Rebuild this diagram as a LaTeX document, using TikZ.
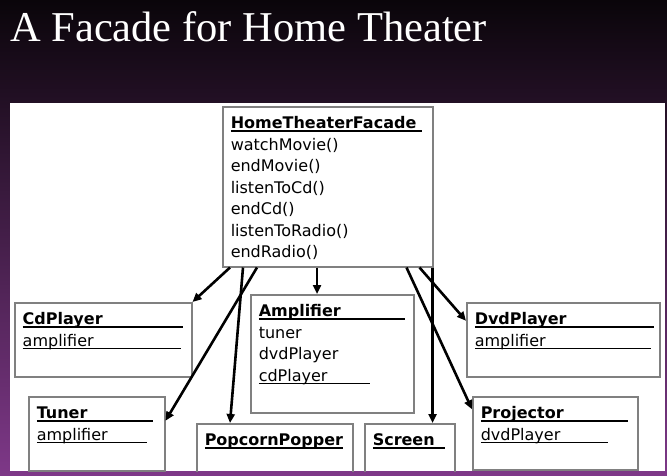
\documentclass[tikz,border=0pt]{standalone}
\usepackage{fontspec}
\setmainfont{Liberation Serif}
\newfontfamily\umlfont{DejaVu Sans}
\usepackage{tikz}
\usetikzlibrary{arrows.meta}
\usetikzlibrary{calc}
\definecolor{bgtop}{RGB}{10,5,10}
\definecolor{bgbot}{RGB}{126,56,136}
\definecolor{boxgray}{RGB}{128,128,128}
\tikzstyle{classbox}=[draw=boxgray,line width=1.5pt,anchor=north west,inner xsep=8pt,inner ysep=7pt,font=\umlfont\fontsize{16}{21.5}\selectfont]
\tikzstyle{uses}=[line width=2.6pt,-{Triangle[length=9pt,width=8pt]}]
\newcommand{\cstrut}{\rule[-6.5pt]{0pt}{21.5pt}}
\newcommand{\ulined}[2]{\makebox[0pt][l]{\rule[-3pt]{#1}{1.4pt}}#2}
\newcommand{\classbody}[3]{\parbox[t][#1][t]{#2}{#3}}

\begin{document}
\begin{tikzpicture}[x=1pt,y=-1pt]
\useasboundingbox (0,0) rectangle (667,475);
\shade[top color=bgtop,bottom color=bgbot] (0,0) rectangle (667,475);
\node[white,anchor=base west,inner sep=0pt,font=\fontsize{42.5}{50}\selectfont] (title) at (10,41) {A Facade for Home Theater};
\fill[white] (10,103) rectangle (665,471);
\begin{scope}
\clip (10,103) rectangle (665,471);
\node[classbox] (facade) at (222,106) {\classbody{146pt}{194pt}{%
  \cstrut\ulined{191pt}{\textbf{HomeTheaterFacade}}\\
  \cstrut watchMovie()\\
  \cstrut endMovie()\\
  \cstrut listenToCd()\\
  \cstrut endCd()\\
  \cstrut listenToRadio()\\
  \cstrut endRadio()}};
\node[classbox] (cd) at (14,302) {\classbody{60pt}{161pt}{%
  \cstrut\ulined{160pt}{\textbf{CdPlayer}}\\
  \cstrut\ulined{158pt}{amplifier}}};
\node[classbox] (tuner) at (28,396) {\classbody{60pt}{120pt}{%
  \cstrut\ulined{116pt}{\textbf{Tuner}}\\
  \cstrut\ulined{110pt}{amplifier}}};
\node[classbox] (amp) at (250,294) {\classbody{104pt}{147pt}{%
  \cstrut\ulined{146pt}{\textbf{Amplifier}}\\
  \cstrut tuner\\
  \cstrut dvdPlayer\\
  \cstrut\ulined{111pt}{cdPlayer}}};
\node[classbox] (popcorn) at (196,423) {\classbody{46pt}{140pt}{%
  \cstrut\ulined{138pt}{\textbf{PopcornPopper}}}};
\node[classbox] (screen) at (364,423) {\classbody{46pt}{74pt}{%
  \cstrut\ulined{72pt}{\textbf{Screen}}}};
\node[classbox] (dvd) at (466,302) {\classbody{60pt}{177pt}{%
  \cstrut\ulined{179pt}{\textbf{DvdPlayer}}\\
  \cstrut\ulined{176pt}{amplifier}}};
\node[classbox] (projector) at (472,396) {\classbody{59pt}{149pt}{%
  \cstrut\ulined{147pt}{\textbf{Projector}}\\
  \cstrut\ulined{127pt}{dvdPlayer}}};
\draw[uses] ([xshift=8pt]facade.south west) -- (cd.north east);
\draw[uses] ([xshift=21pt]facade.south west) -- ([xshift=34pt]popcorn.north west);
\draw[uses] ([xshift=35pt]facade.south west) -- ([yshift=13pt]tuner.east);
\draw[uses] ([xshift=95pt]facade.south west) -- ([xshift=67pt]amp.north west);
\draw[uses] ([xshift=-1pt]facade.south east) -- ([xshift=-1pt]facade.south east |- screen.north);
\draw[uses] ([xshift=-27pt]facade.south east) -- ([yshift=24pt]projector.west);
\draw[uses] ([xshift=-14pt]facade.south east) -- ([yshift=19pt]dvd.west);
\end{scope}
\end{tikzpicture}
\end{document}
